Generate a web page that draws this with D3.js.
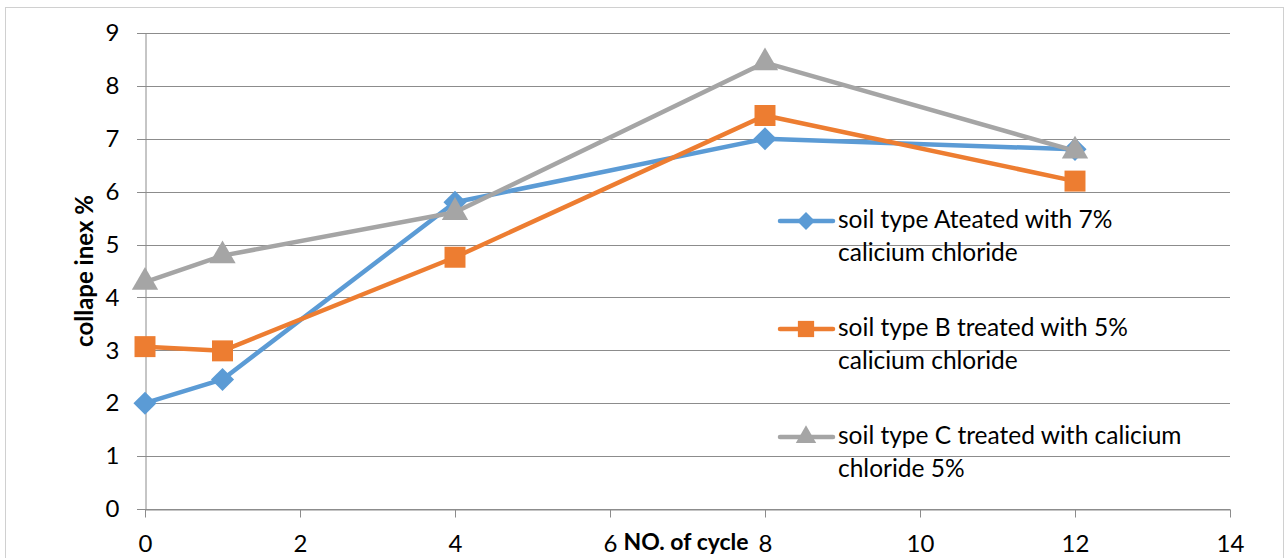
<!DOCTYPE html>
<html>
<head>
<meta charset="utf-8">
<script src="https://cdn.jsdelivr.net/npm/d3@7"></script>
<style>
html,body{margin:0;padding:0;background:#fff;}
svg{display:block;font-family:Lato,"Open Sans",sans-serif;}
</style>
</head>
<body>
<svg id="chart" width="1285" height="558"></svg>
<script>
const cycles = [0, 1, 4, 8, 12];
const seriesA = [2.0, 2.45, 5.8, 7.0, 6.8];
const seriesB = [3.07, 2.99, 4.76, 7.44, 6.2];
const seriesC = [4.29, 4.79, 5.61, 8.44, 6.77];
const seriesNames = [
  ["soil type Ateated with 7%", "calicium chloride"],
  ["soil type B treated with 5%", "calicium chloride"],
  ["soil type C treated with calicium", "chloride 5%"]
];
const xTicks = [0, 2, 4, 6, 8, 10, 12, 14];
const yTicks = [0, 1, 2, 3, 4, 5, 6, 7, 8, 9];
const colors = ["#5B9BD5", "#ED7D31", "#A5A5A5"];
const symbols = [d3.symbolDiamond2, d3.symbolSquare, d3.symbolTriangle];

const svg = d3.select("#chart");
const x = d3.scaleLinear().domain([0, 14]).range([145, 1230]);
const y = d3.scaleLinear().domain([0, 9]).range([509, 33]);

// outer border
svg.append("rect").attr("x", 5.5).attr("y", 7.5).attr("width", 1278).attr("height", 560)
  .attr("fill", "none").attr("stroke", "#d0d0d0").attr("stroke-width", 1);

// gridlines
svg.append("g").selectAll("line").data(yTicks).join("line")
  .attr("x1", 137).attr("x2", 1230)
  .attr("y1", d => Math.round(y(d)) + 0.5).attr("y2", d => Math.round(y(d)) + 0.5)
  .attr("stroke", "#8c8c8c").attr("stroke-width", 1);

// y axis
const yAxis = svg.append("g").attr("transform", "translate(145.5,0)")
  .call(d3.axisLeft(y).tickValues(yTicks).tickSize(0).tickPadding(26));
yAxis.select(".domain").attr("stroke", "#8c8c8c");
yAxis.selectAll("text").attr("font-size", 24).attr("fill", "#000").attr("font-family", "Lato, sans-serif");

// x axis
const xAxis = svg.append("g").attr("transform", "translate(0,509.5)")
  .call(d3.axisBottom(x).tickValues(xTicks).tickSize(8).tickSizeOuter(0));
xAxis.select(".domain").attr("stroke", "#8c8c8c");
xAxis.selectAll("line").attr("stroke", "#8c8c8c");
xAxis.selectAll("text").attr("font-size", 24).attr("fill", "#000").attr("font-family", "Lato, sans-serif")
  .attr("y", 42).attr("dy", "0");

// axis titles
svg.append("text").attr("transform", "translate(93,271) rotate(-90)")
  .attr("text-anchor", "middle").attr("font-weight", "bold").attr("font-size", 24)
  .text("collape inex %");
svg.append("text").attr("x", 686).attr("y", 550)
  .attr("text-anchor", "middle").attr("font-weight", "bold").attr("font-size", 23)
  .text("NO. of cycle");

const allSeries = [seriesA, seriesB, seriesC];
const line = d3.line().x(d => x(d[0])).y(d => y(d[1]));
const symSizes = [340, 440, 300];

allSeries.forEach((vals, i) => {
  const pts = cycles.map((c, j) => [c, vals[j]]);
  svg.append("path").datum(pts).attr("d", line)
    .attr("fill", "none").attr("stroke", colors[i]).attr("stroke-width", 4.5)
    .attr("stroke-linejoin", "round").attr("stroke-linecap", "round");
  svg.append("g").selectAll("path").data(pts).join("path")
    .attr("transform", d => `translate(${x(d[0])},${y(d[1])})`)
    .attr("d", d3.symbol().type(symbols[i]).size(symSizes[i]))
    .attr("fill", colors[i]);
});

// legend
const legY = [221, 329, 437];
seriesNames.forEach((lines, i) => {
  const g = svg.append("g");
  g.append("line").attr("x1", 780).attr("x2", 833).attr("y1", legY[i]).attr("y2", legY[i])
    .attr("stroke", colors[i]).attr("stroke-width", 4.5).attr("stroke-linecap", "round");
  g.append("path").attr("transform", `translate(806,${legY[i]})`)
    .attr("d", d3.symbol().type(symbols[i]).size(symSizes[i] * 0.6))
    .attr("fill", colors[i]);
  lines.forEach((t, k) => {
    g.append("text").attr("x", 838).attr("y", legY[i] + 7 + k * 33)
      .attr("font-size", 24.5).attr("fill", "#000").text(t);
  });
});
</script>
</body>
</html>
